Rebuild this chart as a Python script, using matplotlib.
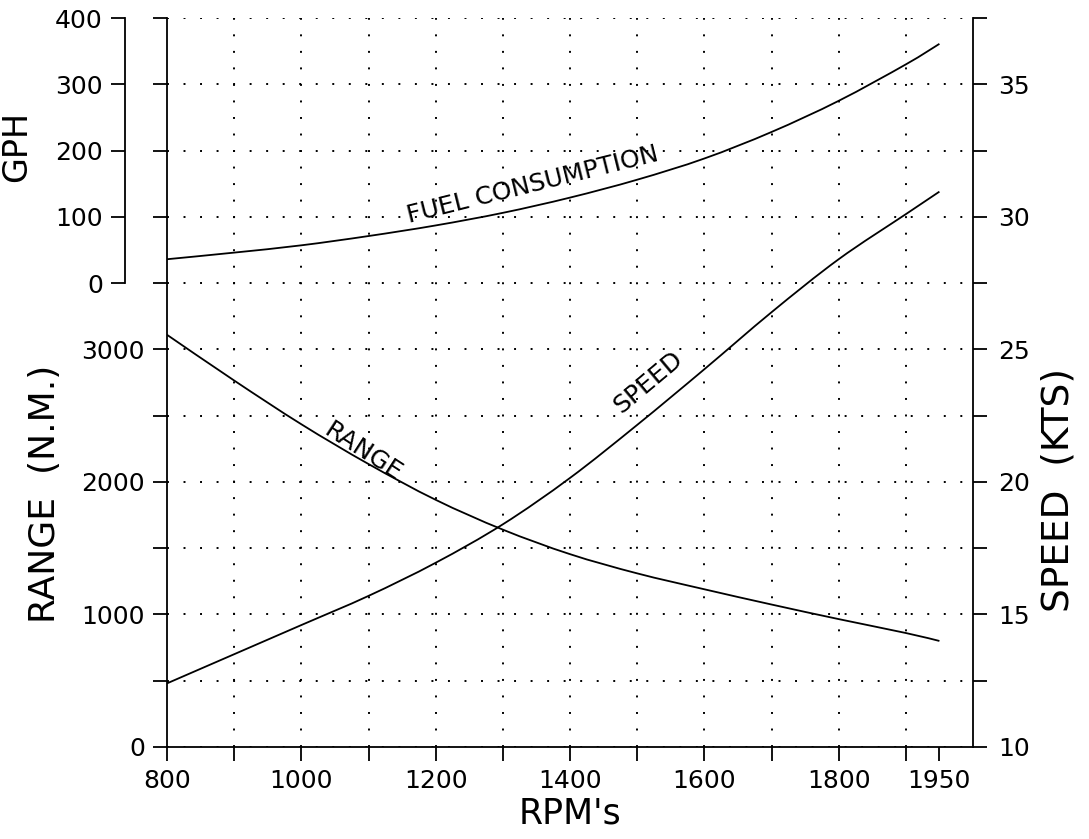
import matplotlib
matplotlib.use("Agg")
import matplotlib.pyplot as plt
from matplotlib.path import Path
from matplotlib.patches import PathPatch

# data
rpm = [800, 900, 1000, 1100, 1200, 1300, 1400, 1500, 1600, 1700, 1800, 1900, 1950]
fuel_gph = [36, 46, 57, 71, 87, 106, 129, 156, 188, 228, 275, 330, 361]
range_nm = [3110, 2765, 2435, 2135, 1865, 1640, 1455, 1310, 1190, 1075, 965, 860, 800]
speed_kts = [12.4, 13.5, 14.6, 15.7, 16.95, 18.4, 20.15, 22.15, 24.25, 26.4, 28.4, 30.1, 30.95]

x_ticks = [800, 900, 1000, 1100, 1200, 1300, 1400, 1500, 1600, 1700, 1800, 1900, 1950]
x_labels = ["800", "", "1000", "", "1200", "", "1400", "", "1600", "", "1800", "", "1950"]
x_grid = [900, 1000, 1100, 1200, 1300, 1400, 1500, 1600, 1700, 1800, 1900]
range_ticks = [0, 500, 1000, 1500, 2000, 2500, 3000, 3500, 4000, 4500, 5000, 5500]
range_labels = ["0", "", "1000", "", "2000", "", "3000", "", "", "", "", ""]
gph_ticks = [0, 100, 200, 300, 400]
speed_ticks = [10, 12.5, 15, 17.5, 20, 22.5, 25, 27.5, 30, 32.5, 35, 37.5]
speed_labels = ["10", "", "15", "", "20", "", "25", "", "30", "", "35", ""]


def smooth_curve(axis, xs, ys, **kw):
    # Catmull-Rom through the read points, drawn as bezier segments
    pts = list(zip(xs, ys))
    ext = [pts[0]] + pts + [pts[-1]]
    verts = [pts[0]]
    codes = [Path.MOVETO]
    for i in range(1, len(ext) - 2):
        p0, p1, p2, p3 = ext[i - 1], ext[i], ext[i + 1], ext[i + 2]
        c1 = (p1[0] + (p2[0] - p0[0]) / 6, p1[1] + (p2[1] - p0[1]) / 6)
        c2 = (p2[0] - (p3[0] - p1[0]) / 6, p2[1] - (p3[1] - p1[1]) / 6)
        verts += [c1, c2, p2]
        codes += [Path.CURVE4] * 3
    axis.add_patch(PathPatch(Path(verts, codes), fill=False, **kw))


plt.rcParams["font.family"] = "DejaVu Sans"
W, H = 1089, 839
fig = plt.figure(figsize=(W / 100, H / 100), dpi=100)
ax = fig.add_axes([167 / W, 1 - 747 / H, (973 - 167) / W, (747 - 18) / H])

lw = 1.3
dot = dict(color="black", linestyle=(0, (1, 7.5)), linewidth=1.4)

# main axis (range)
ax.set_xlim(800, 2000)
ax.set_ylim(0, 5500)
ax.spines["top"].set_visible(False)
ax.spines["right"].set_visible(False)
for s in ["left", "bottom"]:
    ax.spines[s].set_linewidth(lw)
ax.set_xticks(x_ticks)
ax.set_xticklabels(x_labels, fontsize=18)
ax.set_yticks(range_ticks)
ax.set_yticklabels(range_labels, fontsize=18)
ax.tick_params(axis="both", direction="out", length=10, width=lw, pad=6)
ax.grid(axis="y", **dot)
for gx in x_grid:
    ax.axvline(gx, **dot)
smooth_curve(ax, rpm, range_nm, edgecolor="black", linewidth=lw)

# speed axis on the right
ax2 = ax.twinx()
ax2.set_ylim(10, 37.5)
for s in ["top", "left", "bottom"]:
    ax2.spines[s].set_visible(False)
ax2.spines["right"].set_linewidth(lw)
ax2.set_yticks(speed_ticks)
ax2.set_yticklabels(speed_labels, fontsize=18)
ax2.tick_params(axis="y", direction="out", length=10, width=lw, pad=8)
smooth_curve(ax2, rpm, speed_kts, edgecolor="black", linewidth=lw)

# fuel consumption axis, offset on the left
ax3 = ax.twinx()
ax3.set_ylim(-700, 400)
for s in ["top", "right", "bottom"]:
    ax3.spines[s].set_visible(False)
ax3.spines["left"].set_visible(True)
ax3.spines["left"].set_position(("outward", 42 * 72 / 100))
ax3.spines["left"].set_bounds(0, 400)
ax3.spines["left"].set_linewidth(lw)
ax3.yaxis.tick_left()
ax3.set_yticks(gph_ticks)
ax3.set_yticklabels([str(v) for v in gph_ticks], fontsize=18)
ax3.tick_params(axis="y", direction="out", length=10, width=lw, pad=6)
smooth_curve(ax3, rpm, fuel_gph, edgecolor="black", linewidth=lw)

# labels on the curves
ax3.text(1162, 83, "FUEL CONSUMPTION", fontsize=18, rotation=14,
         rotation_mode="anchor", ha="left", va="bottom")
ax.text(1027, 2330, "RANGE", fontsize=18, rotation=-33,
        rotation_mode="anchor", ha="left", va="bottom")
ax2.text(1482, 22.4, "SPEED", fontsize=18, rotation=40,
         rotation_mode="anchor", ha="left", va="bottom")

# axis titles
fig.text(17 / W, 1 - 146 / H, "GPH", fontsize=24, rotation=90, ha="center", va="center")
fig.text(45 / W, 1 - 494 / H, "RANGE  (N.M.)", fontsize=26, rotation=90, ha="center", va="center")
fig.text(1058 / W, 1 - 490 / H, "SPEED  (KTS)", fontsize=27, rotation=90, ha="center", va="center")
fig.text(570 / W, 1 - 813 / H, "RPM's", fontsize=25, ha="center", va="center")

fig.savefig("out.png", dpi=100)
